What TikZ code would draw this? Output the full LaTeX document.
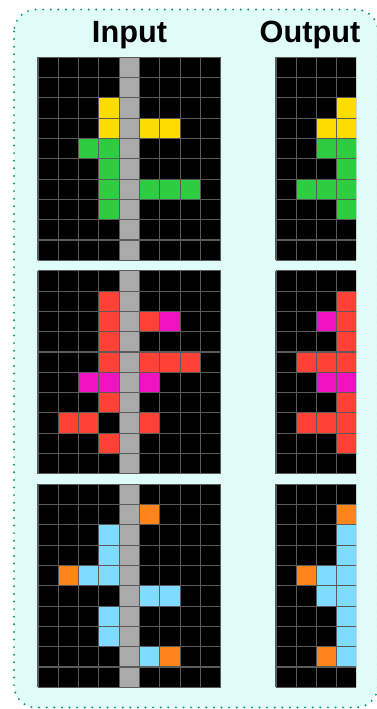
\documentclass[tikz,border=0pt]{standalone}
\usepackage{fontspec}
\setmainfont{Liberation Sans}
\usepackage{xcolor}
\usetikzlibrary{positioning}

\definecolor{bgcyan}{RGB}{224,252,248}
\definecolor{dotteal}{RGB}{22,150,120}
\definecolor{linegray}{RGB}{90,90,90}
\definecolor{arcgray}{RGB}{170,170,170}
\definecolor{arcyel}{RGB}{255,220,0}
\definecolor{arcgrn}{RGB}{46,204,64}
\definecolor{arcred}{RGB}{255,65,54}
\definecolor{arcmag}{RGB}{240,18,190}
\definecolor{arcorg}{RGB}{255,133,27}
\definecolor{arcblu}{RGB}{127,219,255}

\newcommand{\cellsz}{20.3}
% black board with grid lines: #1 = columns, #2 = gray divider (1/0)
\newcommand{\boardbase}[2]{%
  \fill[black] (0,0) rectangle (#1*\cellsz,10*\cellsz);
  \ifnum#2=1 \fill[arcgray] (4*\cellsz,0) rectangle (5*\cellsz,10*\cellsz);\fi
}
\newcommand{\boardlines}[1]{%
  \foreach \i in {0,...,#1} \draw[cellline] (\i*\cellsz,0) -- (\i*\cellsz,10*\cellsz);
  \foreach \j in {0,...,10} \draw[cellline] (0,\j*\cellsz) -- (#1*\cellsz,\j*\cellsz);
}

\begin{document}
\begin{tikzpicture}[x=1pt, y=-1pt,
        title/.style={font=\bfseries\fontsize{30.7}{36}\selectfont, anchor=base, inner sep=0pt},
        cellline/.style={draw=linegray, line width=1.1pt},
        frame/.style={draw=dotteal, fill=bgcyan, line width=2.2pt, line cap=round, dash pattern=on 0pt off 7.6pt, rounded corners=22pt}
    ]
    \useasboundingbox (0,0) rectangle (376,709);
    \draw[frame] (14,9.5) rectangle (378,707.5);

    \node[title] (intitle) at (129.5,42.7) {Input};
    \node[title] (outtitle) at (310,42.7) {Output};

    % input boards
    \begin{scope}[shift={(38,57.3)}]
        \boardbase{9}{1}
        \foreach \r/\c/\col in {2/3/arcyel, 3/3/arcyel, 3/5/arcyel, 3/6/arcyel, 4/2/arcgrn, 4/3/arcgrn, 5/3/arcgrn, 6/3/arcgrn, 6/5/arcgrn, 6/6/arcgrn, 6/7/arcgrn, 7/3/arcgrn}
            \fill[\col] (\c*\cellsz,\r*\cellsz) rectangle ++(\cellsz,\cellsz);
        \boardlines{9}
    \end{scope}
    \begin{scope}[shift={(38,270.8)}]
        \boardbase{9}{1}
        \foreach \r/\c/\col in {1/3/arcred, 2/3/arcred, 2/5/arcred, 2/6/arcmag, 3/3/arcred, 4/3/arcred, 4/5/arcred, 4/6/arcred, 4/7/arcred, 5/2/arcmag, 5/3/arcmag, 5/5/arcmag, 6/3/arcred, 7/1/arcred, 7/2/arcred, 7/5/arcred, 8/3/arcred}
            \fill[\col] (\c*\cellsz,\r*\cellsz) rectangle ++(\cellsz,\cellsz);
        \boardlines{9}
    \end{scope}
    \begin{scope}[shift={(38,484.3)}]
        \boardbase{9}{1}
        \foreach \r/\c/\col in {1/5/arcorg, 2/3/arcblu, 3/3/arcblu, 4/1/arcorg, 4/2/arcblu, 4/3/arcblu, 5/5/arcblu, 5/6/arcblu, 6/3/arcblu, 7/3/arcblu, 8/5/arcblu, 8/6/arcorg}
            \fill[\col] (\c*\cellsz,\r*\cellsz) rectangle ++(\cellsz,\cellsz);
        \boardlines{9}
    \end{scope}

    % output boards (cut at the right)
    \begin{scope}[shift={(276,57.3)}]
        \clip (-2,-2) rectangle (80,206);
        \boardbase{4}{0}
        \foreach \r/\c/\col in {2/3/arcyel, 3/2/arcyel, 3/3/arcyel, 4/2/arcgrn, 4/3/arcgrn, 5/3/arcgrn, 6/1/arcgrn, 6/2/arcgrn, 6/3/arcgrn, 7/3/arcgrn}
            \fill[\col] (\c*\cellsz,\r*\cellsz) rectangle ++(\cellsz,\cellsz);
        \boardlines{4}
    \end{scope}
    \begin{scope}[shift={(276,270.8)}]
        \clip (-2,-2) rectangle (80,206);
        \boardbase{4}{0}
        \foreach \r/\c/\col in {1/3/arcred, 2/2/arcmag, 2/3/arcred, 3/3/arcred, 4/1/arcred, 4/2/arcred, 4/3/arcred, 5/2/arcmag, 5/3/arcmag, 6/3/arcred, 7/1/arcred, 7/2/arcred, 7/3/arcred, 8/3/arcred}
            \fill[\col] (\c*\cellsz,\r*\cellsz) rectangle ++(\cellsz,\cellsz);
        \boardlines{4}
    \end{scope}
    \begin{scope}[shift={(276,484.3)}]
        \clip (-2,-2) rectangle (80,206);
        \boardbase{4}{0}
        \foreach \r/\c/\col in {1/3/arcorg, 2/3/arcblu, 3/3/arcblu, 4/1/arcorg, 4/2/arcblu, 4/3/arcblu, 5/2/arcblu, 5/3/arcblu, 6/3/arcblu, 7/3/arcblu, 8/2/arcorg, 8/3/arcblu}
            \fill[\col] (\c*\cellsz,\r*\cellsz) rectangle ++(\cellsz,\cellsz);
        \boardlines{4}
    \end{scope}
\end{tikzpicture}
\end{document}
